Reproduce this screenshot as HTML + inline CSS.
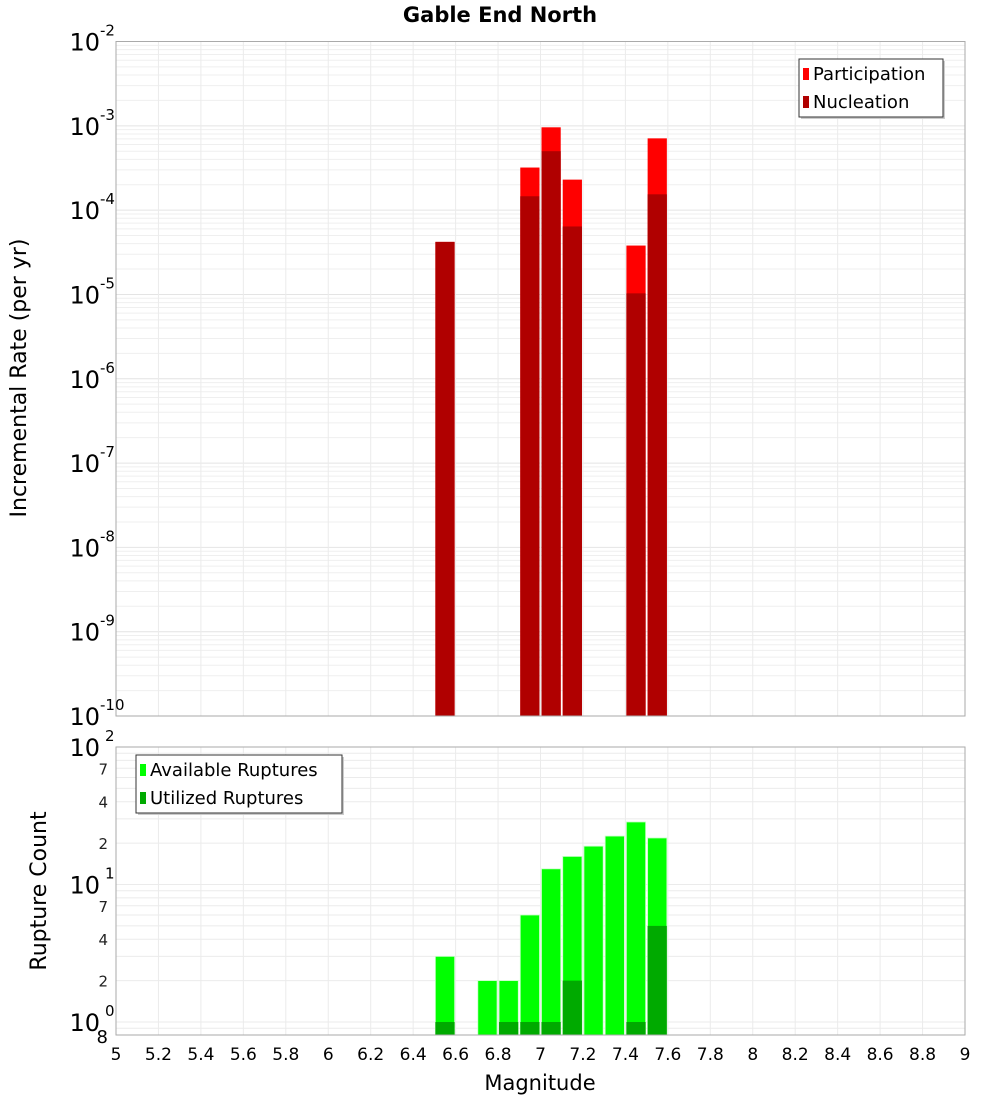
<!DOCTYPE html>
<html><head><meta charset="utf-8"><style>
body{margin:0;background:#fff;}
svg{display:block;font-family:"DejaVu Sans","Liberation Sans",sans-serif;}
</style></head><body>
<svg id="chart" width="1000" height="1100" xmlns="http://www.w3.org/2000/svg">
<text x="500" y="22" text-anchor="middle" font-size="21" font-weight="bold">Gable End North</text>
<g id="topG"></g><g id="botG"></g>
<text transform="translate(26,378) rotate(-90)" text-anchor="middle" font-size="22">Incremental Rate (per yr)</text>
<text transform="translate(46,891) rotate(-90)" text-anchor="middle" font-size="22">Rupture Count</text>
<text x="540" y="1090" text-anchor="middle" font-size="21">Magnitude</text>
</svg>
<script>
const mags = [6.55, 6.95, 7.05, 7.15, 7.45, 7.55];
const participation = [4.2e-5, 3.2e-4, 9.6e-4, 2.3e-4, 3.8e-5, 7.1e-4];
const nucleation = [4.2e-5, 1.46e-4, 5.0e-4, 6.4e-5, 1.03e-5, 1.54e-4];
const countMags = [6.55, 6.75, 6.85, 6.95, 7.05, 7.15, 7.25, 7.35, 7.45, 7.55];
const available = [3, 2, 2, 6, 13, 16, 19, 22.5, 28.5, 21.8];
const utilized = [1, 0, 1, 1, 1, 2, 0, 0, 1, 5];
const xTicks = [5,5.2,5.4,5.6,5.8,6,6.2,6.4,6.6,6.8,7,7.2,7.4,7.6,7.8,8,8.2,8.4,8.6,8.8,9];
const topExps = [-2,-3,-4,-5,-6,-7,-8,-9,-10];
const botExps = [2,1,0];
const botMinor = [7,4,2];

const NS="http://www.w3.org/2000/svg";
const L=116,R=965;
const X=m=>L+(m-5)/4*(R-L);
const T1=41.5,B1=716;
const YT=v=>T1+(-2-Math.log10(v))*(B1-T1)/8;
const T2=747,D2=137.5,B2=1035;
const YB=v=>T2+(2-Math.log10(v))*D2;
function el(p,tag,a,txt){const e=document.createElementNS(NS,tag);for(const k in a)e.setAttribute(k,a[k]);if(txt!==undefined)e.textContent=txt;p.appendChild(e);return e;}
const topG=document.getElementById('topG'),botG=document.getElementById('botG');
for(let e=-10;e<-2;e++)for(let k=1;k<10;k++){const y=YT(k*Math.pow(10,e));
 const g=el(topG,'line',{x1:L,x2:R,y1:y,y2:y,stroke:k==1?'#e4e4e4':'#efefef','stroke-width':1});
 
 }
xTicks.forEach(t=>{const g=el(topG,'line',{x1:X(t),x2:X(t),y1:T1,y2:B1,stroke:'#ebebeb'});
 
 });
for(let e=-1;e<2;e++)for(let k=1;k<10;k++){const v=k*Math.pow(10,e);const y=YB(v);if(y>B2||y<T2)continue;
 const g=el(botG,'line',{x1:L,x2:R,y1:y,y2:y,stroke:'#ebebeb'});
 
 }
xTicks.forEach(t=>{const g=el(botG,'line',{x1:X(t),x2:X(t),y1:T2,y2:B2,stroke:'#ebebeb'});
 
 });
const bw=(R-L)/40;
mags.forEach((m,i)=>{
 const x=X(m)-bw/2+1,w=bw-2;
 const p=el(topG,'rect',{x:x,y:YT(participation[i]),width:w,height:B1-YT(participation[i]),fill:'#ff0000'});
 
 
 const n=el(topG,'rect',{x:x,y:YT(nucleation[i]),width:w,height:B1-YT(nucleation[i]),fill:'#b00000'});
 
 
});
countMags.forEach((m,i)=>{
 const x=X(m)-bw/2+1,w=bw-2;
 const a=el(botG,'rect',{x:x,y:YB(available[i]),width:w,height:B2-YB(available[i]),fill:'#00ff00',stroke:'#c8ffc8','stroke-width':0.8});
 
 
 if(utilized[i]>0){const u=el(botG,'rect',{x:x,y:YB(utilized[i]),width:w,height:B2-YB(utilized[i]),fill:'#00aa00'});
 
 }
});
let f=el(topG,'rect',{x:L,y:T1,width:R-L,height:B1-T1,fill:'none',stroke:'#aaa'});


f=el(botG,'rect',{x:L,y:T2,width:R-L,height:B2-T2,fill:'none',stroke:'#aaa'});


topExps.forEach(e=>{const y=YT(Math.pow(10,e));
 const t=el(topG,'text',{x:100,y:y+9,'text-anchor':'end','font-size':24},'10');
 
 
 const s=el(topG,'text',{x:100,y:y-6,'font-size':15},String(e));
 
 });
botExps.forEach(e=>{const y=YB(Math.pow(10,e));
 const t=el(botG,'text',{x:100,y:y+9,'text-anchor':'end','font-size':24},'10');
 
 
 const s=el(botG,'text',{x:105,y:y-6,'font-size':15},String(e));
 
 });
[1,0].forEach(e=>botMinor.forEach(k=>{const y=YB(k*Math.pow(10,e));
 const t=el(botG,'text',{x:108,y:y+6,'text-anchor':'end','font-size':15,fill:'#222'},String(k));
 
 }));
let t8=el(botG,'text',{x:108,y:B2+8,'text-anchor':'end','font-size':18},'8');


xTicks.forEach(t=>{const s=el(botG,'text',{x:X(t),y:1060,'text-anchor':'middle','font-size':17},String(t));
 
 });
function legend(p,x,y,w,items,name){const g=el(p,'g',{});
 
 
 el(g,'rect',{x:x+2,y:y+2,width:w,height:58,fill:'#ccc'});
 el(g,'rect',{x:x,y:y,width:w,height:58,fill:'#fff',stroke:'#333'});
 items.forEach((it,i)=>{el(g,'rect',{x:x+4,y:y+9+i*28,width:6,height:12,fill:it[1]});
  el(g,'text',{x:x+14,y:y+21+i*28,'font-size':18},it[0]);});}
legend(topG,799,59,144,[['Participation','#ff0000'],['Nucleation','#b00000']],'top-legend');
legend(botG,136,755,206,[['Available Ruptures','#00ff00'],['Utilized Ruptures','#00aa00']],'bottom-legend');
</script>
</body></html>
